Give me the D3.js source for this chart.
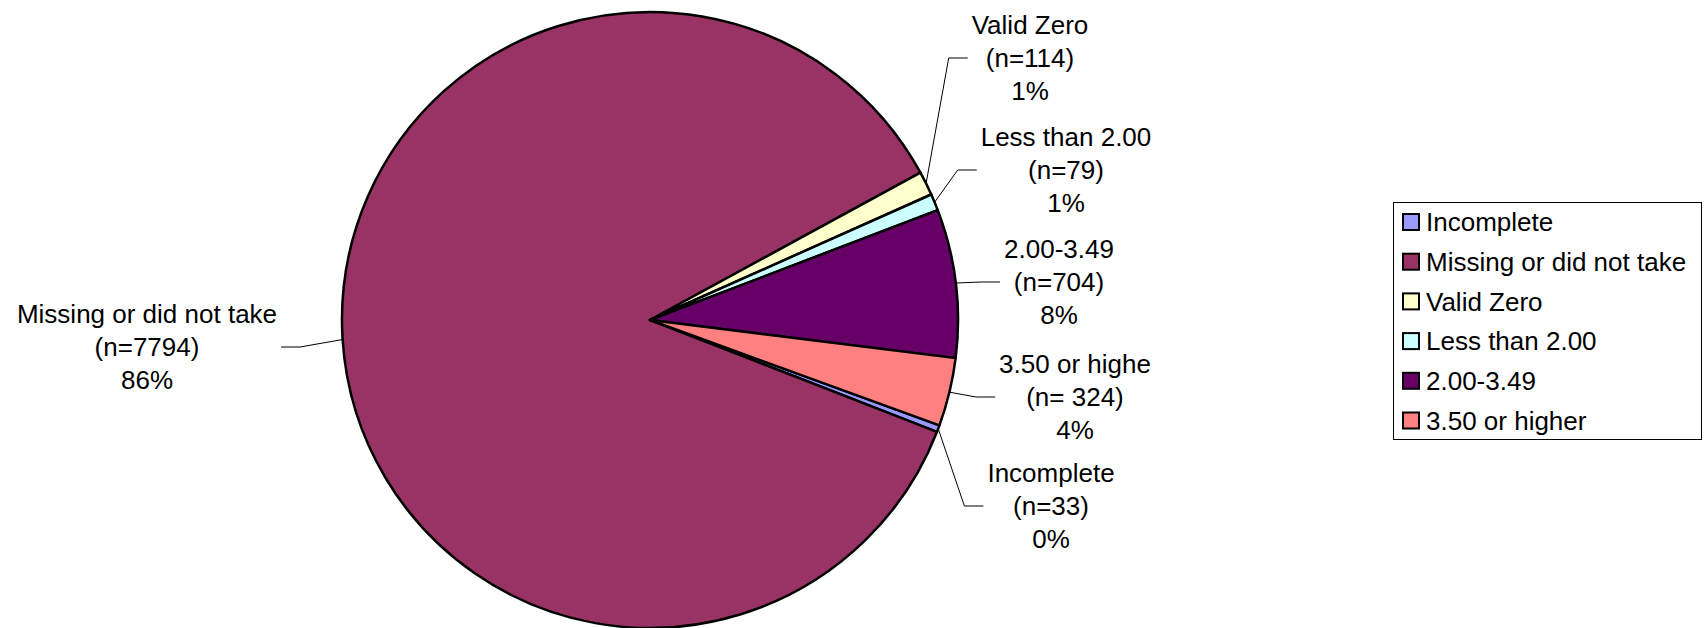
<!DOCTYPE html>
<html>
<head>
<meta charset="utf-8">
<script src="https://cdn.jsdelivr.net/npm/d3@7"></script>
<style>
  body { margin: 0; background: #fff; }
  text { font-family: Arial, "Liberation Sans", sans-serif; fill: #000; }
</style>
</head>
<body>
<div id="chart"></div>
<script>
// data
const categories = ['Incomplete', 'Missing or did not take', 'Valid Zero', 'Less than 2.00', '2.00-3.49', '3.50 or higher'];
const counts     = [33, 7794, 114, 79, 704, 324];
const colors     = ['#9999ff', '#993366', '#ffffcc', '#ccffff', '#660066', '#ff8080'];

// data label text as shown next to the slices
const labelNames  = ['Incomplete', 'Missing or did not take', 'Valid Zero', 'Less than 2.00', '2.00-3.49', '3.50 or highe'];
const labelCounts = ['(n=33)', '(n=7794)', '(n=114)', '(n=79)', '(n=704)', '(n= 324)'];

// where each data label sits (centre of middle line), layout only
const labelAt = [[1051, 506], [147, 347], [1030, 58], [1066, 170], [1059, 282], [1075, 397]];

const W = 1704, H = 628;
const cx = 650, cy = 320, R = 308;
const fontSize = 26, lineStep = 33;

const svg = d3.select('#chart')
  .append('svg')
  .attr('width', W)
  .attr('height', H);

const total = d3.sum(counts);
const rows = categories.map((c, i) => ({
  name: c, value: counts[i], color: colors[i],
  label: [labelNames[i], labelCounts[i], Math.round(counts[i] / total * 100) + '%'],
  at: labelAt[i]
}));

// excel: first slice starts at 110 degrees, clockwise
const start = 110 * Math.PI / 180;
const pie = d3.pie().value(d => d.value).sort(null)
  .startAngle(start).endAngle(start + 2 * Math.PI);
const arcs = pie(rows);

const arc = d3.arc().innerRadius(0).outerRadius(R);

const g = {
  pie: svg.append('g').attr('transform', `translate(${cx}, ${cy})`),
  leaders: svg.append('g'),
  labels: svg.append('g'),
  legend: svg.append('g')
};

g.pie.selectAll('path.slice')
  .data(arcs)
  .enter()
  .append('path')
  .attr('class', 'slice')
  .attr('d', arc)
  .style('fill', d => d.data.color)
  .style('stroke', '#000')
  .style('stroke-width', 2.5)
  .style('stroke-linejoin', 'round');

// data labels
const labels = g.labels.selectAll('g.lbl')
  .data(arcs)
  .enter()
  .append('g')
  .attr('class', 'lbl');

labels.each(function(d) {
  const sel = d3.select(this);
  d.data.label.forEach((t, k) => {
    sel.append('text')
      .attr('x', d.data.at[0])
      .attr('y', d.data.at[1] + (k - 1) * lineStep)
      .attr('dy', '0.35em')
      .attr('text-anchor', 'middle')
      .style('font-size', fontSize + 'px')
      .text(t);
  });
});

// leader lines: edge of slice -> elbow -> short horizontal -> label box
labels.each(function(d) {
  const box = this.getBBox();
  const mid = (d.startAngle + d.endAngle) / 2;
  const ex = cx + R * Math.sin(mid), ey = cy - R * Math.cos(mid);
  const right = ex > cx;
  const endX = right ? box.x - 4 : box.x + box.width + 4;
  const elbowX = right ? endX - 19 : endX + 19;
  const y = d.data.at[1];
  g.leaders.append('path')
    .attr('d', d3.line()([[ex, ey], [elbowX, y], [endX, y]]))
    .style('fill', 'none')
    .style('stroke', '#000')
    .style('stroke-width', 1);
});

// legend
const lg = { x: 1393, y: 202, w: 308, h: 237, row: 39.7, first: 222 };
g.legend.append('rect')
  .attr('x', lg.x + 0.5).attr('y', lg.y + 0.5)
  .attr('width', lg.w).attr('height', lg.h)
  .style('fill', '#fff').style('stroke', '#000').style('stroke-width', 1);

const items = g.legend.selectAll('g.item')
  .data(rows)
  .enter()
  .append('g')
  .attr('class', 'item')
  .attr('transform', (d, i) => `translate(${lg.x + 9}, ${lg.first + i * lg.row})`);

items.append('rect')
  .attr('x', 1).attr('y', -8)
  .attr('width', 16).attr('height', 16)
  .style('fill', d => d.color)
  .style('stroke', '#000')
  .style('stroke-width', 2);

items.append('text')
  .attr('x', 24)
  .attr('dy', '0.35em')
  .style('font-size', fontSize + 'px')
  .text(d => d.name);
</script>
</body>
</html>
